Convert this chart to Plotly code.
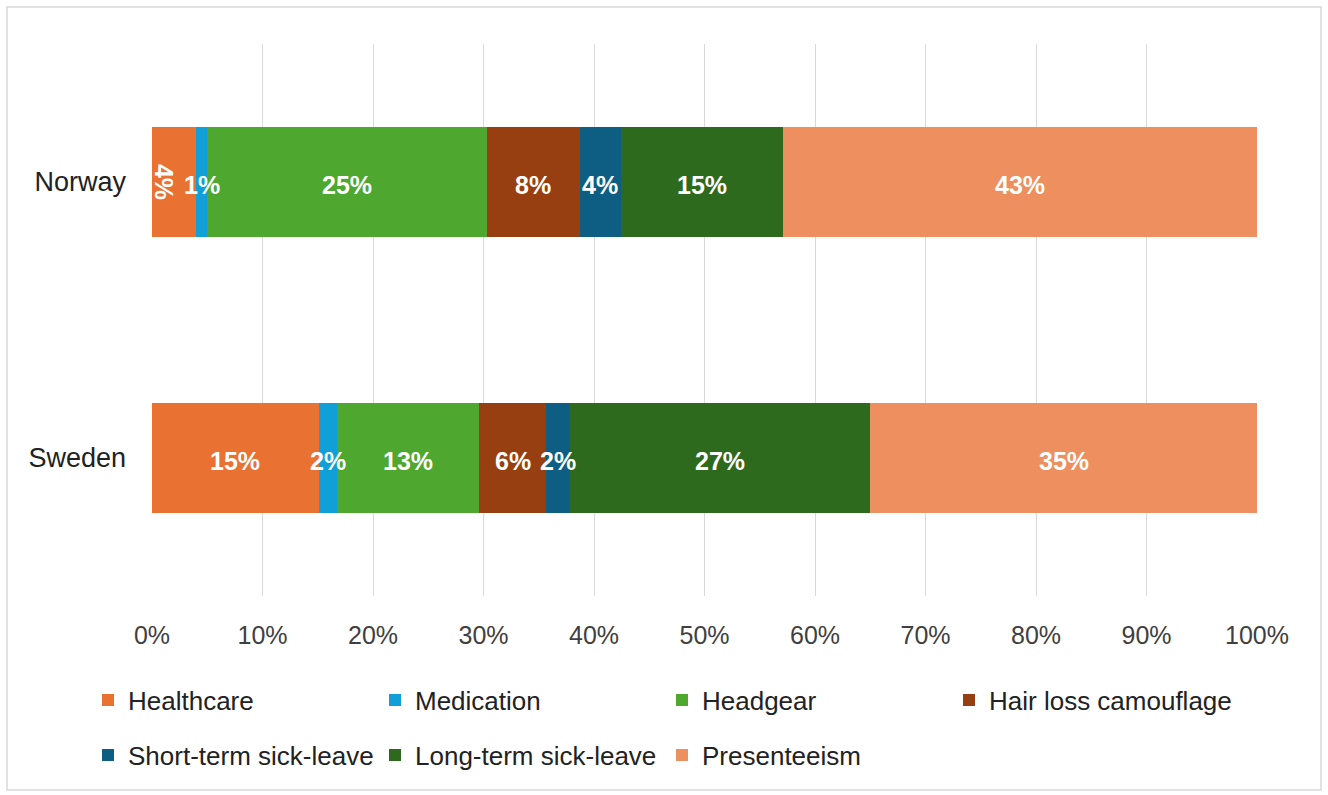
import plotly.graph_objects as go

countries = ["Norway", "Sweden"]
series_names = ["Healthcare", "Medication", "Headgear", "Hair loss camouflage",
                "Short-term sick-leave", "Long-term sick-leave", "Presenteeism"]
healthcare = [0.040, 0.151]
medication = [0.010, 0.016]
headgear = [0.253, 0.129]
hair_loss = [0.084, 0.061]
short_term = [0.037, 0.021]
long_term = [0.147, 0.272]
presenteeism = [0.429, 0.350]
series_values = [healthcare, medication, headgear, hair_loss, short_term, long_term, presenteeism]
tick_vals = [0, 0.1, 0.2, 0.3, 0.4, 0.5, 0.6, 0.7, 0.8, 0.9, 1.0]
tick_text = ["0%", "10%", "20%", "30%", "40%", "50%", "60%", "70%", "80%", "90%", "100%"]

colors = ["#E97132", "#119FD8", "#4EA72E", "#983F12", "#0D5E82", "#2E6A1E", "#EE8F5F"]

W, H = 1328, 795
L, R, T, B = 152, 71, 44, 199
pw, ph = W - L - R, H - T - B

def px_x(x):
    return (x - L) / pw

def px_y(y):
    return (H - B - y) / ph

label_font = dict(family="Liberation Sans", size=25, color="white", weight="bold")

fig = go.Figure()
for i, (name, vals) in enumerate(zip(series_names, series_values)):
    fig.add_trace(go.Bar(
        name=name, y=countries, x=vals, orientation="h",
        marker=dict(color=colors[i], line=dict(width=0)),
        legend="legend" if i < 4 else "legend2",
        hoverinfo="skip",
    ))

# data labels drawn on top of all bars, centred in each segment
for ci, c in enumerate(countries):
    cum = 0.0
    for si, vals in enumerate(series_values):
        v = vals[ci]
        rotated = (si == 0 and ci == 0)
        fig.add_annotation(
            x=cum + v / 2, y=c, xref="x", yref="y",
            xshift=-10 if rotated else 0, yshift=0 if rotated else -3,
            text=f"{round(v * 100):.0f}%", textangle=90 if rotated else 0,
            showarrow=False, font=label_font,
        )
        cum += v

legend_font = dict(family="Liberation Sans", size=26, color="#222222")
fig.update_layout(
    width=W, height=H,
    barmode="stack", bargap=0.6,
    margin=dict(l=L, r=R, t=T, b=B),
    paper_bgcolor="white", plot_bgcolor="white",
    xaxis=dict(range=[0, 1], tickvals=tick_vals, ticktext=tick_text,
               showgrid=True, gridcolor="#D9D9D9", gridwidth=1, zeroline=False,
               showline=False, ticks="", ticklabelstandoff=22,
               tickfont=dict(family="Liberation Sans", size=25, color="#404040")),
    yaxis=dict(categoryorder="array", categoryarray=countries[::-1],
               showgrid=False, zeroline=False, showline=False, ticks="",
               ticklabelstandoff=25,
               tickfont=dict(family="Liberation Sans", size=27, color="#222222")),
    legend=dict(orientation="h", x=px_x(88), xanchor="left", y=px_y(700), yanchor="middle",
                entrywidth=242, entrywidthmode="pixels", traceorder="normal",
                font=legend_font, bgcolor="rgba(0,0,0,0)"),
    legend2=dict(orientation="h", x=px_x(88), xanchor="left", y=px_y(755), yanchor="middle",
                 entrywidth=242, entrywidthmode="pixels", traceorder="normal",
                 font=legend_font, bgcolor="rgba(0,0,0,0)"),
    shapes=[dict(type="rect", xref="paper", yref="paper",
                 x0=px_x(7), x1=px_x(1321), y0=px_y(790), y1=px_y(7),
                 line=dict(color="#D9D9D9", width=1.5), fillcolor="rgba(0,0,0,0)", layer="below")],
    showlegend=True,
)

fig.write_html("out.html")
